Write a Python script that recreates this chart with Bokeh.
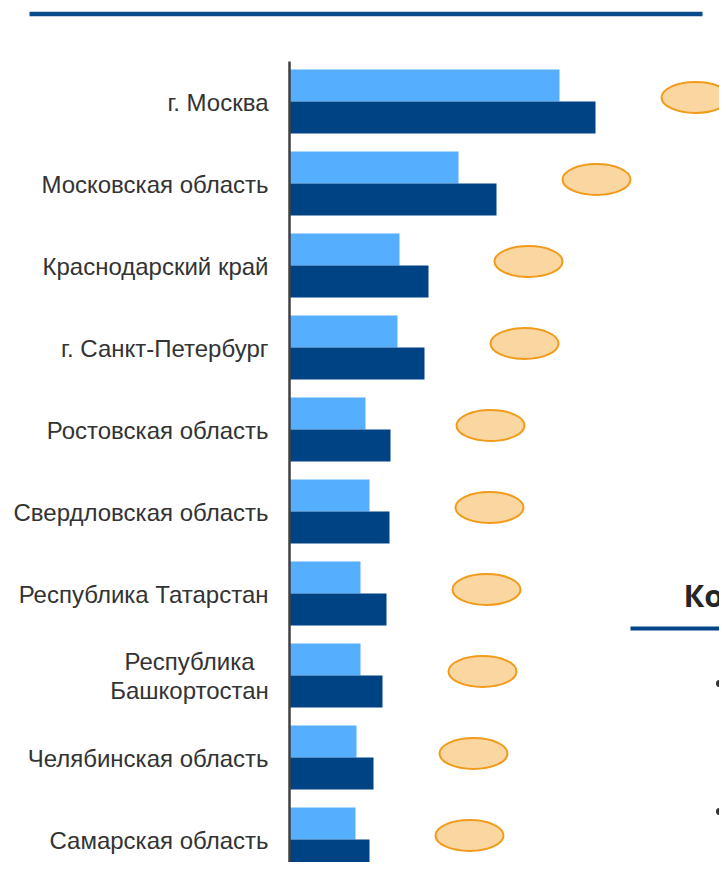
from bokeh.plotting import figure
from bokeh.models import Range1d, ColumnDataSource
from bokeh.embed import file_html
from bokeh.resources import INLINE
from bokeh.core.properties import value

# ---- data ----
regions = ["г. Москва", "Московская область", "Краснодарский край",
           "г. Санкт-Петербург", "Ростовская область", "Свердловская область",
           "Республика Татарстан", "Республика\nБашкортостан",
           "Челябинская область", "Самарская область"]
series_a = [270, 169, 110, 108, 76, 80, 71, 71, 67, 66]   # light blue
series_b = [306, 207, 139, 135, 101, 100, 97, 93, 84, 80]  # dark blue
heading = "Комментарии"

# ---- layout helpers (reference pixel -> data) ----
AX = 289.0
ROW0 = 101.0
ROWH = 82.0
def PX(x):
    return x - AX
def PY(y):
    return (y - ROW0) / ROWH

W, H = 719, 862
p = figure(width=W, height=H, output_backend="svg", toolbar_location=None,
           x_range=Range1d(PX(0), PX(W)),
           y_range=Range1d(PY(H), PY(0)),
           min_border=0, min_border_left=0, min_border_right=0,
           min_border_top=0, min_border_bottom=0)
p.axis.visible = False
p.grid.visible = False
p.outline_line_color = None
p.background_fill_color = "white"
p.border_fill_color = "white"

idx = list(range(len(regions)))
off = 16.0 / ROWH
bh = 32.0 / ROWH
src = ColumnDataSource(dict(
    y=idx,
    ya=[i - off for i in idx],
    yb=[i + off for i in idx],
    a=series_a,
    b=series_b,
    ex=[v + 100 for v in series_b],
    ey=[i - 4.0 / ROWH for i in idx],
))

p.hbar(y="ya", left=0, right="a", height=bh, source=src,
       fill_color="#56AEFF", line_color=None)
p.hbar(y="yb", left=0, right="b", height=bh, source=src,
       fill_color="#004385", line_color=None)

p.ellipse(x="ex", y="ey", width=68, height=31, width_units="screen",
          height_units="screen", source=src, fill_color="#FAD6A0",
          line_color="#F29B1A", line_width=2)

# axis line
p.segment(x0=[0], y0=[PY(61)], x1=[0], y1=[PY(880)],
          line_color="#404040", line_width=2.5)

# category labels
for i, lab in enumerate(regions):
    lines = lab.split("\n")
    if len(lines) == 1:
        p.text(x=[PX(268)], y=[i + 1.0 / ROWH], text=[lab],
               text_align="right", text_baseline="middle",
               text_font=value("Liberation Sans"), text_font_size="24px",
               text_color="#333333")
    else:
        n = len(lines)
        for k, ln in enumerate(lines):
            dy = (k - (n - 1) / 2.0) * 29.0 / ROWH
            p.text(x=[PX(189)], y=[i + dy], text=[ln],
                   text_align="center", text_baseline="middle",
                   text_font=value("Liberation Sans"), text_font_size="24px",
                   text_color="#333333")

# top rule
p.segment(x0=[PX(29)], y0=[PY(13.5)], x1=[PX(702)], y1=[PY(13.5)],
          line_color="#0B4A8B", line_width=4.5)

# side heading (cut off at the right edge, as in the reference)
p.text(x=[PX(683)], y=[PY(594)], text=[heading], text_align="left",
       text_baseline="middle", text_font=value("Open Sans"),
       text_font_style="bold", text_font_size="31px", text_color="#262626")
p.segment(x0=[PX(630)], y0=[PY(628)], x1=[PX(740)], y1=[PY(628)],
          line_color="#004488", line_width=4)
p.scatter(x=[PX(719), PX(719)], y=[PY(683), PY(811)], size=7,
          fill_color="#333333", line_color=None)

open("out.html", "w").write(file_html(p, INLINE))
